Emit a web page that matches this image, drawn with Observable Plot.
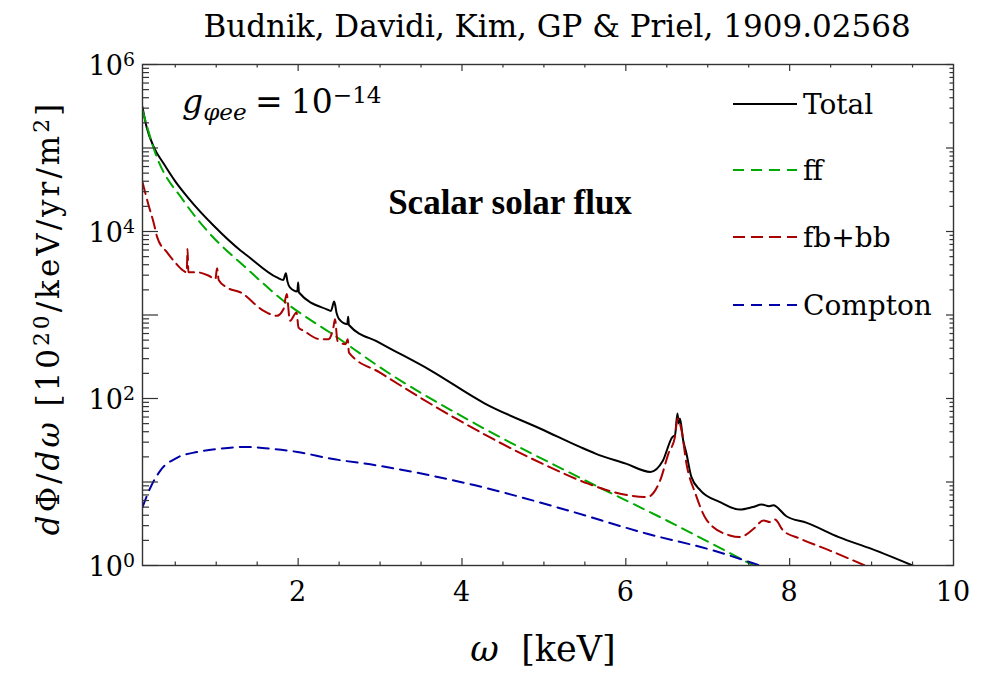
<!DOCTYPE html>
<html><head><meta charset="utf-8">
<script src="https://cdn.jsdelivr.net/npm/d3@7"></script>
<script src="https://cdn.jsdelivr.net/npm/@observablehq/plot@0.6"></script>
<style>
body{margin:0;background:#fff}
svg{display:block}
#wrap{position:relative;width:995px;height:679px;overflow:hidden}
.lbl{position:absolute;font-family:'DejaVu Serif',serif;line-height:1;white-space:nowrap;color:#000;transform-origin:0 0}
.bold{font-family:'Liberation Serif',serif;font-weight:bold}
.sup{font-size:0.7em;position:relative;top:-0.45em}
.sub{font-size:0.7em;position:relative;top:0.3em}
</style>
</head><body><div id="wrap"></div>
<script>
// ---- data ----
const seriesNames = ["Total", "ff", "fb+bb", "Compton"];
const seriesColors = ["#000000", "#00aa00", "#aa0000", "#0000aa"];
const seriesDash = [null, "11,7", "12,6", "11,7"];

const totalX = [0.10,0.15,0.24,0.36,0.50,0.66,0.97,1.30,1.38,1.74,1.82,1.85,1.87,1.90,1.99,2.00,2.01,2.35,2.40,2.44,2.47,2.50,2.60,2.61,2.62,2.99,3.61,4.28,5.00,5.44,5.63,6.00,6.30,6.45,6.57,6.60,6.63,6.645,6.66,6.70,6.74,6.80,6.91,7.15,7.39,7.55,7.66,7.75,7.80,7.96,8.21,8.60,9.00,9.55];
const totalY = [3.09e5,1.78e5,1.02e5,6.46e4,3.98e4,2.51e4,1.17e4,5.89e3,5.13e3,2.82e3,2.63e3,3.16e3,2.51e3,2.14e3,1.91e3,2.45e3,1.86e3,1.17e3,1.12e3,1.45e3,1.05e3,891,776,955,759,468,219,87.1,41.7,26.3,21.9,16.6,13.2,17.8,34.7,36.3,66.1,50.1,57.5,31.6,21.9,11.5,7.94,5.75,4.68,5.01,5.37,5.13,5.25,3.89,3.24,2.19,1.58,0.955];

const ffX = [0.10,0.26,0.60,0.89,1.38,1.82,2.48,3.02,4.16,5.50,6.50,7.48,7.60];
const ffY = [2.82e5,8.51e4,2.34e4,1.02e4,3.55e3,1.48e3,537,229,50.1,10.5,3.46,1.10,0.955];

const fbX = [0.10,0.17,0.24,0.28,0.40,0.48,0.60,0.64,0.65,0.66,0.77,0.91,0.99,1.01,1.03,1.13,1.30,1.58,1.74,1.82,1.86,1.90,1.98,2.005,2.07,2.27,2.37,2.43,2.45,2.48,2.58,2.605,2.62,3.00,3.96,4.98,5.54,5.85,6.26,6.42,6.52,6.60,6.63,6.68,6.74,6.85,6.99,7.27,7.39,7.56,7.68,7.76,7.82,7.92,8.13,8.49,8.95];
const fbY = [3.89e4,2.14e4,1.23e4,8.51e3,5.62e3,4.47e3,3.39e3,3.24e3,6.17e3,3.24e3,3.24e3,2.95e3,2.69e3,3.63e3,2.63e3,2.14e3,1.86e3,1.12e3,977,1.17e3,1.78e3,851,1.07e3,708,646,513,513,708,891,490,447,513,355,204,55.0,16.6,9.55,7.59,6.61,10.5,21.9,34.7,57.5,41.7,16.6,7.24,3.47,2.29,2.19,2.75,3.47,3.31,3.55,2.63,2.09,1.51,0.97];

const comptonX = [0.10,0.20,0.32,0.52,0.77,1.05,1.34,1.66,1.99,2.39,2.96,4.16,5.22,6.26,7.07,7.66];
const comptonY = [5.01,8.71,13.8,19.5,22.9,25.1,26.3,25.1,22.9,19.1,15.8,9.12,4.79,2.40,1.51,0.98];

const xTickLabels = [2, 4, 6, 8, 10];
const yTickLabels = [1, 1e2, 1e4, 1e6];

const titleText = "Budnik, Davidi, Kim, GP &amp; Priel, 1909.02568";
const panelText = "Scalar solar flux";
const couplingText = '<i>g</i><span class="sub"><i>\u03C6ee</i></span><span style="margin:0 0.25em">=</span>10<span class="sup">\u221214</span>';
const yLabelText = '<i>d</i>\u03A6/<i>d\u03C9</i> [10<span class="sup">20</span>/keV/yr/m<span class="sup">2</span>]';
const xLabelText = '<i>\u03C9</i>&nbsp;&nbsp;[keV]';

// ---- table ----
const seriesXY = [[totalX, totalY], [ffX, ffY], [fbX, fbY], [comptonX, comptonY]];
const rows = seriesXY.flatMap(([xs, ys], i) => xs.map((x, j) => ({series: seriesNames[i], x, y: ys[j]})));

// ---- tick positions ----
const yAll = d3.scaleLog().domain([1, 1e6]).ticks();
const yMajor = yAll.filter(d => Math.abs(Math.log10(d) - Math.round(Math.log10(d))) < 1e-9);
const yMinor = yAll.filter(d => !yMajor.includes(d));
const xMajor = [2, 4, 6, 8];
const xMinor = d3.range(0.5, 10, 0.5).filter(d => d % 2 !== 0);

const ML = 142, MR = 42, MT = 64, MB = 114, WIDTH = 995, HEIGHT = 679;
const FW = WIDTH - ML - MR, FH = HEIGHT - MT - MB;
const tickStyle = {stroke: "#333", strokeWidth: 1.2};

const chart = Plot.plot({
  width: WIDTH, height: HEIGHT,
  marginLeft: ML, marginRight: MR, marginTop: MT, marginBottom: MB,
  style: {background: "white"},
  x: {domain: [0.1, 10], axis: null},
  y: {type: "log", domain: [1, 1e6], axis: null},
  marks: [
    ...seriesNames.map((name, i) => Plot.line(rows.filter(r => r.series === name), {
      x: "x", y: "y", stroke: seriesColors[i], strokeWidth: 2,
      strokeDasharray: seriesDash[i], curve: "monotone-x", clip: true
    })),
    Plot.frame({stroke: "#333", strokeWidth: 1.4}),
    Plot.tickY(yMajor, {y: d => d, insetRight: FW - 16, ...tickStyle}),
    Plot.tickY(yMinor, {y: d => d, insetRight: FW - 7, ...tickStyle}),
    Plot.tickY(yMajor, {y: d => d, insetLeft: FW - 7, ...tickStyle}),
    Plot.tickY(yMinor, {y: d => d, insetLeft: FW - 3.5, ...tickStyle}),
    Plot.tickX(xMajor, {x: d => d, insetTop: FH - 7, ...tickStyle}),
    Plot.tickX(xMinor, {x: d => d, insetTop: FH - 3.5, ...tickStyle}),
    Plot.tickX(xMajor, {x: d => d, insetBottom: FH - 7, ...tickStyle}),
    Plot.tickX(xMinor, {x: d => d, insetBottom: FH - 3.5, ...tickStyle})
  ]
});

// legend swatches
const legendY = [104, 170, 237, 305];
const lg = d3.select(chart).append("g");
seriesNames.forEach((name, i) => {
  lg.append("line").attr("x1", 733).attr("x2", 797).attr("y1", legendY[i]).attr("y2", legendY[i])
    .attr("stroke", seriesColors[i]).attr("stroke-width", 2).attr("stroke-dasharray", seriesDash[i]);
});

const wrap = document.getElementById("wrap");
wrap.append(chart);

// ---- text (HTML, positioned from the Plot scales) ----
const ASC = 0.846; // baseline offset for line-height:1 in DejaVu Serif
function label(html, {x, baseline, size, anchor = "start", cls = "", asc = ASC}) {
  const d = document.createElement("div");
  d.className = "lbl" + (cls ? " " + cls : "");
  d.innerHTML = html;
  d.style.fontSize = size + "px";
  d.style.top = (baseline - asc * size) + "px";
  d.style.left = x + "px";
  const tx = anchor === "middle" ? "-50%" : anchor === "end" ? "-100%" : "0";
  d.style.transform = `translateX(${tx})`;
  wrap.append(d);
  return d;
}
const sx = chart.scale("x"), sy = chart.scale("y");
xTickLabels.forEach(v => label(String(v), {x: sx.apply(v), baseline: HEIGHT - MB + 36, size: 27, anchor: "middle"}));
yTickLabels.forEach(v => label(`10<span class="sup">${Math.round(Math.log10(v))}</span>`, {x: ML - 7, baseline: sy.apply(v) + 10.5, size: 27, anchor: "end"}));

label(titleText, {x: 557, baseline: 37, size: 31, anchor: "middle"});
label(panelText, {x: 510, baseline: 214, size: 35, anchor: "middle", cls: "bold", asc: 0.8375});
label(couplingText, {x: 182, baseline: 113, size: 33});
label(xLabelText, {x: 543, baseline: 662, size: 35, anchor: "middle"});
seriesNames.forEach((name, i) => label(name, {x: 803, baseline: legendY[i] + 11, size: 28}));

// rotated y label centred at (48, 318)
const yl = document.createElement("div");
yl.className = "lbl";
yl.innerHTML = yLabelText;
yl.style.fontSize = "31px";
yl.style.letterSpacing = "3px";
yl.style.left = "48px";
yl.style.top = "318px";
yl.style.transform = "rotate(-90deg) translate(-50%,-50%)";
wrap.append(yl);
</script>
</body></html>
